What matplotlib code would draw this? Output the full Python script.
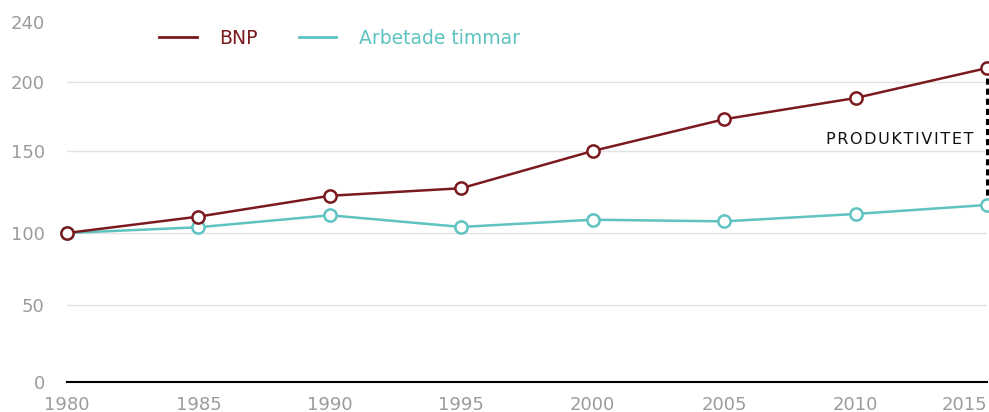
import numpy as np
import matplotlib
matplotlib.use("Agg")
import matplotlib.pyplot as plt
from matplotlib.lines import Line2D

years = [1980, 1985, 1990, 1995, 2000, 2005, 2010, 2015]
bnp = [100, 110, 122.7, 127.3, 150, 173, 188.4, 209.3]
timmar = [100, 103.5, 110.8, 103.7, 108.1, 107.1, 111.6, 117.1]
yticks = [0, 50, 100, 150, 200, 240]
grid_vals = [50, 100, 150, 200]
series_labels = ["BNP", "Arbetade timmar"]
annot_text = "PRODUKTIVITET"

# piecewise axis positions as drawn in the reference (irregular grid spacing)
scale_vals = np.array([0, 50, 100, 150, 200, 240], dtype=float)
scale_pos = np.array([0, 77, 149, 231, 300, 360], dtype=float)

def fwd(v):
    return np.interp(np.asarray(v, dtype=float), scale_vals, scale_pos)

def inv(p):
    return np.interp(np.asarray(p, dtype=float), scale_pos, scale_vals)

C_BNP = "#7b1a1e"
C_TIM = "#5ec3c1"
C_TICK = "#9b9b9b"
C_GRID = "#e2e2e2"

plt.rcParams['font.family'] = ['DejaVu Sans']

W, H = 989, 412
fig = plt.figure(figsize=(W / 100, H / 100), dpi=100)
ax = fig.add_axes([67 / W, 1 - 382 / H, (987 - 67) / W, 360 / H])
ax.set_yscale('function', functions=(fwd, inv))
ax.set_xlim(1980, 2015)
ax.set_ylim(0, 240)

for g in grid_vals:
    ax.axhline(g, color=C_GRID, lw=1.0, zorder=0)

ax.plot([years[-1], years[-1]], [bnp[-1], timmar[-1]], color="black", lw=2.2,
        dashes=(2.0, 1.3), zorder=2, clip_on=False)

for vals, col in [(timmar, C_TIM), (bnp, C_BNP)]:
    ax.plot(years, vals, color=col, lw=1.8, marker='o', ms=8.8,
            mfc='white', mec=col, mew=1.8, zorder=3, clip_on=False)

for s in ['top', 'right', 'left']:
    ax.spines[s].set_visible(False)
ax.spines['bottom'].set_color('black')
ax.spines['bottom'].set_linewidth(1.5)
ax.spines['bottom'].set_zorder(1)

ax.set_xticks(years)
ax.set_xticklabels([str(y) for y in years])
ax.set_yticks(yticks)
ax.set_yticklabels([str(t) for t in yticks])
ax.tick_params(axis='both', length=0, labelsize=13, labelcolor=C_TICK)
ax.tick_params(axis='y', pad=16)
ax.tick_params(axis='x', pad=10)
xl = ax.get_xticklabels()
xl[-1].set_horizontalalignment('right')

handles = [Line2D([], [], color=C_BNP, lw=2.0), Line2D([], [], color=C_TIM, lw=2.0)]
leg = fig.legend(handles, series_labels, loc='center left',
                 bbox_to_anchor=(159 / W, 1 - 38 / H), ncol=2, frameon=False,
                 fontsize=13.5, handlelength=2.0, handletextpad=1.2,
                 columnspacing=2.2, borderpad=0, borderaxespad=0)
for t, c in zip(leg.get_texts(), [C_BNP, C_TIM]):
    t.set_color(c)

fig.text(973 / W, 1 - 139 / H, "\u200a".join(annot_text),
         ha='right', va='center', fontsize=11.5, color='#111111')

fig.savefig("out.png", dpi=100)
